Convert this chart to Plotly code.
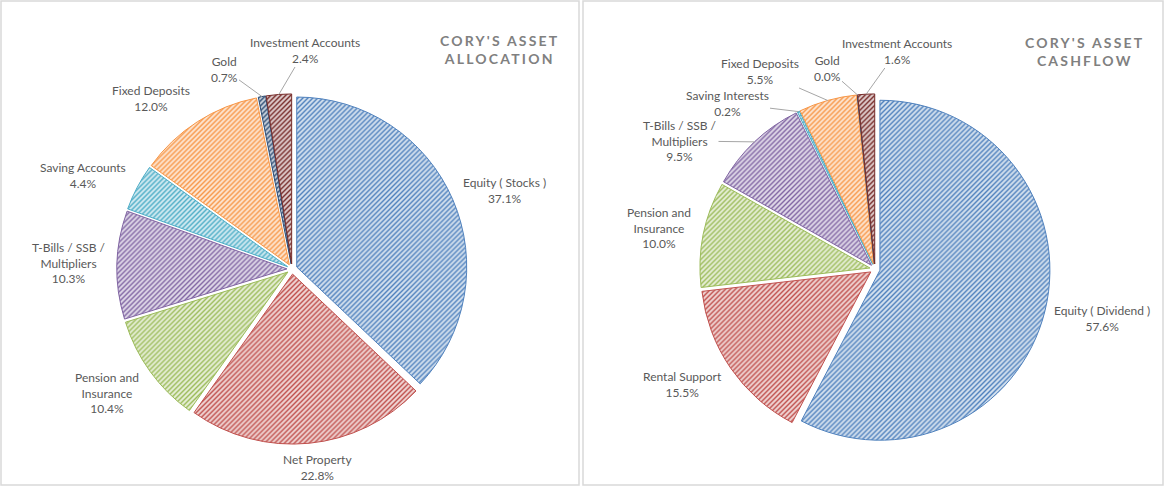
import math
import plotly.graph_objects as go

# ---- data ----
alloc_labels = ["Equity ( Stocks )", "Net Property", "Pension and<br>Insurance",
                "T-Bills / SSB /<br>Multipliers", "Saving Accounts", "Fixed Deposits",
                "Gold", "Investment Accounts"]
alloc_values = [37.1, 22.8, 10.4, 10.3, 4.4, 12.0, 0.7, 2.4]

cash_labels = ["Equity ( Dividend )", "Rental Support", "Pension and<br>Insurance",
               "T-Bills / SSB /<br>Multipliers", "Saving Interests", "Fixed Deposits",
               "Gold", "Investment Accounts"]
cash_values = [57.6, 15.5, 10.0, 9.5, 0.2, 5.5, 0.0, 1.6]

colors = ["#4F81BD", "#C0504D", "#9BBB59", "#8064A2", "#4BACC6", "#F79646",
          "#2C4D75", "#772C2A"]

# ---- layout / style (pixel positions of label centres, leader flags) ----
W, H = 1164, 487
FONT = "Lato"
TXT = "#595959"
PULL = 0.03
DOM_Y = [0.0881, 0.8071]
alloc_dom_x = [0.0018, 0.5]
cash_dom_x = [0.5034, 1.0]

alloc_label_pos = [(504, 190), (318, 467), (107, 393), (69, 263), (83, 175),
                   (151, 99), (224, 69), (305, 50)]
alloc_leader = [False, False, False, False, False, False, True, True]
cash_label_pos = [(1102, 318), (682, 384), (659, 228), (680, 141), (727, 103),
                  (760, 71), (827, 68), (897, 51)]
cash_leader = [False, False, False, True, True, True, True, True]


def tint(hex_color, f):
    h = hex_color.lstrip("#")
    r, g, b = (int(h[i:i + 2], 16) for i in (0, 2, 4))
    r, g, b = (round(c + (255 - c) * f) for c in (r, g, b))
    return f"#{r:02X}{g:02X}{b:02X}"


bg_colors = [tint(c, 0.75) for c in colors]


def pie(labels, values, dom_x):
    return go.Pie(
        labels=labels, values=values, sort=False, direction="clockwise",
        rotation=0, pull=PULL, automargin=False,
        domain=dict(x=dom_x, y=DOM_Y),
        marker=dict(colors=colors,
                    line=dict(color=colors, width=1),
                    pattern=dict(shape="/", fgcolor=colors, bgcolor=bg_colors,
                                 size=3.5, solidity=0.4, fillmode="replace")),
        textinfo="none",
        showlegend=False, hoverinfo="label+value",
    )


def add_labels(fig, labels, values, dom_x, pos, leader):
    # pie geometry as plotly computes it
    wpx = (dom_x[1] - dom_x[0]) * W
    hpx = (DOM_Y[1] - DOM_Y[0]) * H
    cx = (dom_x[0] + dom_x[1]) / 2 * W
    cy = (1 - (DOM_Y[0] + DOM_Y[1]) / 2) * H
    r = min(wpx, hpx) / (2 * (1 + PULL))
    total = sum(values)
    cum = 0.0
    for lab, v, (lx, ly), ld in zip(labels, values, pos, leader):
        text = f"{lab}<br>{v:.1f}%"
        common = dict(xref="paper", yref="paper", text=text, align="center",
                      xanchor="center", yanchor="middle",
                      font=dict(family=FONT, size=12, color=TXT))
        if ld:
            theta = (cum + v / 2) / total * 2 * math.pi
            tx = cx + r * (1 + PULL) * math.sin(theta)
            ty = cy - r * (1 + PULL) * math.cos(theta)
            fig.add_annotation(x=tx / W, y=1 - ty / H, ax=lx - tx, ay=ly - ty,
                               showarrow=True, arrowhead=0, arrowwidth=1,
                               arrowcolor="#A6A6A6", standoff=0, startstandoff=0,
                               **common)
        else:
            fig.add_annotation(x=lx / W, y=1 - ly / H, showarrow=False, **common)
        cum += v


fig = go.Figure()
fig.add_trace(pie(alloc_labels, alloc_values, alloc_dom_x))
fig.add_trace(pie(cash_labels, cash_values, cash_dom_x))
add_labels(fig, alloc_labels, alloc_values, alloc_dom_x, alloc_label_pos, alloc_leader)
add_labels(fig, cash_labels, cash_values, cash_dom_x, cash_label_pos, cash_leader)

# panel borders
fig.add_shape(type="rect", xref="paper", yref="paper", x0=1 / W, x1=579 / W,
              y0=2 / H, y1=486 / H, line=dict(color="#D9D9D9", width=1.5))
fig.add_shape(type="rect", xref="paper", yref="paper", x0=583 / W, x1=1163 / W,
              y0=2 / H, y1=486 / H, line=dict(color="#D9D9D9", width=1.5))

ls = "letter-spacing:2.2px"
for tx, ty, ttl in [(500, 50, "CORY'S ASSET<br>ALLOCATION"),
                    (1084, 51, "CORY'S ASSET<br>CASHFLOW")]:
    fig.add_annotation(xref="paper", yref="paper", x=tx / W, y=1 - ty / H,
                       xanchor="center", yanchor="middle",
                       text=f"<span style='{ls}'><b>{ttl}</b></span>",
                       showarrow=False, font=dict(family=FONT, size=14, color="#808080"),
                       align="center")

fig.update_layout(width=W, height=H,
                  margin=dict(l=0, r=0, t=0, b=0, autoexpand=False),
                  paper_bgcolor="white", plot_bgcolor="white")
fig.write_html("out.html", config={"displayModeBar": False},
               post_script="document.body.style.margin='0';"
                           "document.body.style.overflow='hidden';")
